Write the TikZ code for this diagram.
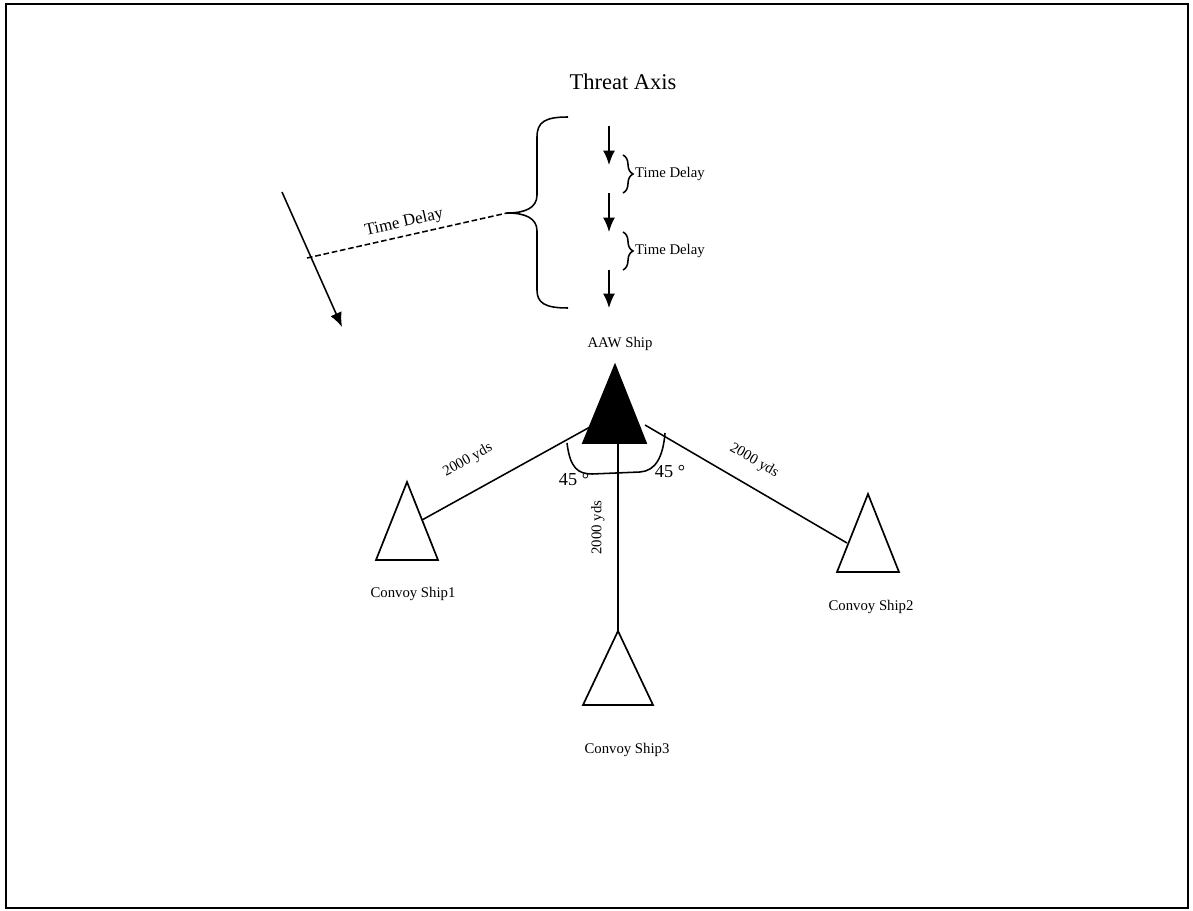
\documentclass[tikz,border=0pt]{standalone}
\usepackage{fontspec}
\setmainfont{Liberation Serif}
\usepackage{tikz}
\usetikzlibrary{arrows.meta, decorations.pathreplacing}

\begin{document}
\begin{tikzpicture}[x=0.025cm, y=-0.025cm, line width=1.1pt,
    txt/.style={font=\fontsize{10.5}{12}\selectfont},
    arr/.style={-{Latex[length=3.6mm, width=3mm]}},
    ship/.style={draw, line width=1.2pt, line join=miter},
    brc/.style={decorate, decoration={brace, amplitude=2.5mm}}]
  \useasboundingbox (0,0) rectangle (1193,911);
  \draw[line width=1.4pt] (6,4) rectangle (1188,908);

  % threat axis with the staggered arrivals
  \node[font=\fontsize{16}{18}\selectfont] (axis) at (623,82) {Threat Axis};
  \foreach \ys/\ye [count=\i] in {126/165, 193/232, 270/308} {
    \coordinate (t\i) at (609,\ys);
    \coordinate (h\i) at (609,\ye);
    \draw[arr] (t\i) -- (h\i);
  }
  \coordinate (d1t) at (623,155); \coordinate (d1b) at (623,193);
  \coordinate (d2t) at (623,232); \coordinate (d2b) at (623,270);
  \draw[brc] (d1t) -- (d1b);
  \draw[brc] (d2t) -- (d2b);
  \node[txt, right, inner sep=1pt] (td1) at (633,174) {Time Delay};
  \node[txt, right, inner sep=1pt] (td2) at (633,251) {Time Delay};

  % big brace and the oblique track
  \coordinate (btip) at (507,213);
  \draw (568,117) .. controls (545,117) and (537,122) .. (537,137) -- (537,195)
    .. controls (537,208) and (525,213) .. (btip)
    .. controls (525,213) and (537,218) .. (537,231) -- (537,290)
    .. controls (537,303) and (545,308) .. (568,308);
  \coordinate (dtail) at (307,258);
  \draw[dash pattern=on 4pt off 2pt] (dtail) -- node[sloped, above, font=\fontsize{12}{14}\selectfont] (tdb) {Time Delay} (btip);
  \coordinate (ls) at (282,192);
  \coordinate (le) at (342,327);
  \draw[arr] (ls) -- (le);

  % ships
  \node[txt] (aawlbl) at (620,344) {AAW Ship};
  \coordinate (aaw) at (615,365);
  \filldraw[ship, fill=black] (aaw) -- (583,443) -- (646,443) -- cycle;
  \foreach \n/\x/\y/\w/\h in {s1/407/482/31/78, s2/868/494/31/78, s3/618/631/35/74} {
    \coordinate (\n) at (\x,\y);
    \draw[ship] (\n) -- ++(-\w,\h) -- ++(2*\w,0) -- cycle;
  }
  \node[txt] (s1lbl) at (413,594) {Convoy Ship1};
  \node[txt] (s2lbl) at (871,607) {Convoy Ship2};
  \node[txt] (s3lbl) at (627,750) {Convoy Ship3};

  % distances
  \coordinate (aawl) at (590,427);
  \coordinate (aawr) at (645,425);
  \coordinate (aawb) at (618,443);
  \coordinate (s1c) at (422,520);
  \coordinate (s2c) at (847,543);
  \draw (s1c) -- node[txt, sloped, above=4.5mm, pos=0.36] {2000 yds} (aawl);
  \draw (aawr) -- node[txt, sloped, above=3mm, pos=0.48] {2000 yds} (s2c);
  \draw (s3) -- node[txt, sloped, above=2mm, pos=0.55] {2000 yds} (aawb);

  % angle marks
  \draw (567,443) .. controls (570,468) and (578,474) .. (592,474) -- (640,472)
    .. controls (655,471) and (663,458) .. (665,433);
  \node[font=\fontsize{13}{15}\selectfont] (ang1) at (574,480) {45 °};
  \node[font=\fontsize{13}{15}\selectfont] (ang2) at (670,472) {45 °};
\end{tikzpicture}
\end{document}
